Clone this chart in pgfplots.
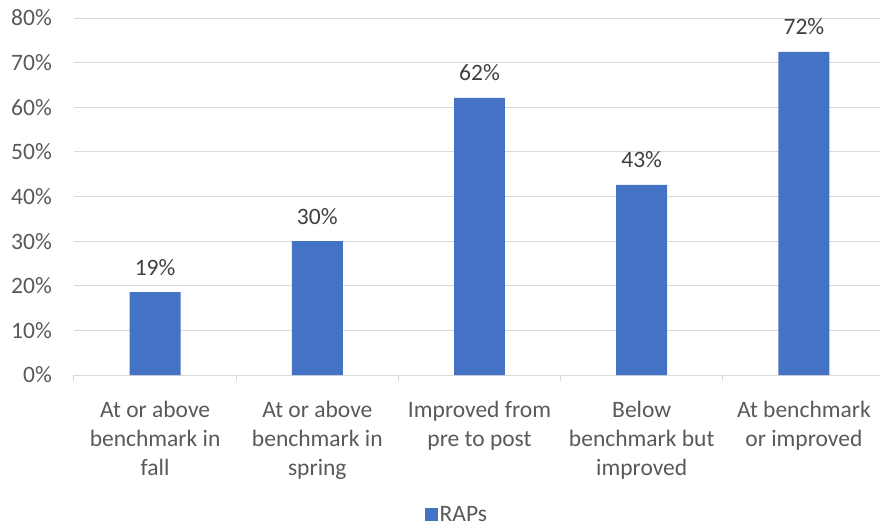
\documentclass[border=0pt]{standalone}
\usepackage{pgfplots}
\pgfplotsset{compat=1.18}
\usepackage{fontspec}
\setmainfont{Carlito}
\definecolor{barblue}{HTML}{4472C4}
\definecolor{gridgray}{HTML}{D9D9D9}
\definecolor{ticktext}{HTML}{595959}
\definecolor{labeltext}{HTML}{404040}
\newcommand{\chartfont}{\fontsize{23.5}{29}\selectfont}
\begin{document}
\begin{tikzpicture}[x=1pt,y=1pt]
\path[use as bounding box] (0,0) rectangle (880,528);
\begin{axis}[
  at={(74pt,153pt)}, anchor=south west,
  scale only axis, width=811pt, height=357pt,
  xmin=-0.5, xmax=4.5, ymin=0, ymax=80,
  ybar, bar width=0.314,
  axis x line*=bottom, axis y line*=left,
  x axis line style={gridgray, line width=1pt, -},
  y axis line style={draw=none},
  ymajorgrids, grid style={gridgray, line width=1pt},
  ytick={0,10,...,80},
  yticklabel={\pgfmathprintnumber{\tick}\%},
  /pgf/number format/assume math mode=true,
  ytick style={draw=none},
  yticklabel style={font=\chartfont, text=ticktext, anchor=east, inner sep=0pt, xshift=-22pt},
  xtick={0,1,2,3,4},
  xticklabels={{At or above\\benchmark in\\fall},
               {At or above\\benchmark in\\spring},
               {Improved from\\pre to post},
               {Below\\benchmark but\\improved},
               {At benchmark\\or improved}},
  xticklabel style={font=\chartfont, text=ticktext, align=center, anchor=north, inner sep=0pt, yshift=-22pt},
  xtick style={draw=none},
  extra x ticks={-0.5,0.5,1.5,2.5,3.5,4.5},
  extra x tick labels={},
  extra x tick style={xtick style={draw=gridgray, line width=1pt}, major tick length=6pt, tick align=outside, grid=none},
  nodes near coords={\pgfmathprintnumber[fixed,precision=0]{\pgfplotspointmeta}\%},
  every node near coord/.append style={font=\chartfont, text=labeltext, anchor=base, inner sep=0pt, yshift=17pt},
  legend style={at={(0.472,-0.39)}, anchor=center, draw=none, fill=none, font=\chartfont, text=ticktext,
                inner sep=0pt, outer sep=0pt},
  legend image code/.code={\fill[barblue] (0pt,-6.5pt) rectangle (13pt,6.5pt);},
]
\addplot[fill=barblue, draw=none] coordinates {
  (0,18.6) (1,30.0) (2,62.1) (3,42.6) (4,72.4)
};
\addlegendentry{RAPs}
\end{axis}
\end{tikzpicture}
\end{document}
